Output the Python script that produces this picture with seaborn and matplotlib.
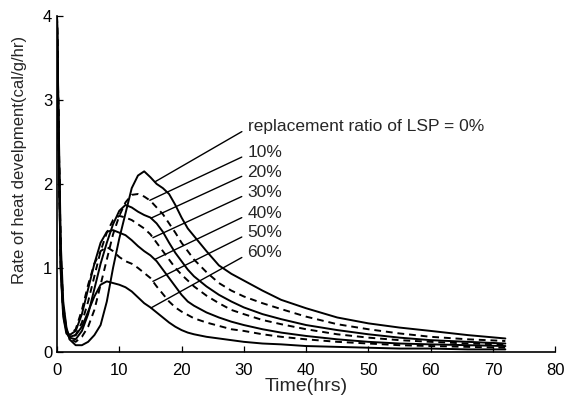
import pandas as pd
import numpy as np
import matplotlib
matplotlib.use("Agg")
import matplotlib.pyplot as plt
import seaborn as sns

# ==============================
# DATA
# ==============================
time_hrs = [0, 0.3, 0.6, 1, 1.5, 2, 3, 4, 5, 6, 7, 8, 9, 10, 11, 12, 13, 14, 15, 16,
            17, 18, 19, 20, 21, 22, 24, 26, 28, 30, 33, 36, 40, 45, 50, 55, 60, 66, 72]

ratios = ["0%", "10%", "20%", "30%", "40%", "50%", "60%"]

rate_0 = [4.0, 2.6, 1.3, 0.6, 0.3, 0.15, 0.08, 0.08, 0.12, 0.2, 0.32, 0.6, 1.0, 1.35, 1.65,
          1.95, 2.1, 2.15, 2.08, 2.0, 1.95, 1.88, 1.75, 1.6, 1.47, 1.38, 1.2, 1.03, 0.93,
          0.85, 0.73, 0.62, 0.52, 0.41, 0.34, 0.29, 0.25, 0.2, 0.16]
rate_10 = [4.0, 2.5, 1.2, 0.55, 0.28, 0.16, 0.12, 0.18, 0.3, 0.5, 0.8, 1.1, 1.4, 1.62, 1.78,
           1.87, 1.88, 1.85, 1.8, 1.72, 1.64, 1.53, 1.42, 1.3, 1.2, 1.1, 0.95, 0.82, 0.73,
           0.66, 0.58, 0.51, 0.42, 0.33, 0.27, 0.22, 0.18, 0.15, 0.13]
rate_20 = [4.0, 2.4, 1.1, 0.5, 0.25, 0.17, 0.15, 0.25, 0.45, 0.75, 1.05, 1.3, 1.52, 1.68, 1.75,
           1.72, 1.67, 1.63, 1.6, 1.53, 1.43, 1.3, 1.18, 1.08, 0.98, 0.9, 0.78, 0.68, 0.6,
           0.53, 0.45, 0.39, 0.32, 0.26, 0.21, 0.17, 0.14, 0.12, 0.1]
rate_30 = [4.0, 2.4, 1.1, 0.5, 0.25, 0.18, 0.2, 0.35, 0.6, 0.9, 1.2, 1.42, 1.57, 1.62, 1.6,
           1.57, 1.52, 1.47, 1.4, 1.3, 1.2, 1.1, 1.0, 0.92, 0.85, 0.78, 0.67, 0.58, 0.5,
           0.45, 0.38, 0.33, 0.27, 0.21, 0.17, 0.14, 0.12, 0.1, 0.09]
rate_40 = [4.0, 2.3, 1.0, 0.48, 0.25, 0.2, 0.25, 0.45, 0.75, 1.05, 1.3, 1.43, 1.45, 1.42, 1.39,
           1.33, 1.26, 1.2, 1.15, 1.08, 0.98, 0.88, 0.78, 0.68, 0.6, 0.55, 0.47, 0.41, 0.36,
           0.32, 0.27, 0.23, 0.19, 0.15, 0.12, 0.1, 0.09, 0.08, 0.07]
rate_50 = [4.0, 2.3, 1.0, 0.45, 0.24, 0.2, 0.27, 0.5, 0.8, 1.05, 1.2, 1.25, 1.2, 1.13, 1.08,
           1.05, 1.0, 0.94, 0.88, 0.78, 0.69, 0.6, 0.53, 0.48, 0.44, 0.4, 0.35, 0.31, 0.27,
           0.25, 0.21, 0.18, 0.15, 0.12, 0.1, 0.08, 0.07, 0.06, 0.05]
rate_60 = [4.0, 2.2, 0.95, 0.42, 0.22, 0.18, 0.2, 0.3, 0.48, 0.66, 0.8, 0.84, 0.82, 0.8, 0.77,
           0.72, 0.65, 0.58, 0.53, 0.47, 0.41, 0.35, 0.3, 0.26, 0.23, 0.21, 0.18, 0.16, 0.14,
           0.12, 0.1, 0.09, 0.07, 0.06, 0.05, 0.04, 0.04, 0.03, 0.03]

# leader lines: point on each curve -> label position
anchor_t = [15.7, 14.9, 15.1, 15.4, 15.7, 15.4, 15.1]
label_y = [2.68, 2.37, 2.14, 1.9, 1.65, 1.42, 1.18]
label_t = 30.6
label_text = ["replacement ratio of LSP = 0%", "10%", "20%", "30%", "40%", "50%", "60%"]

all_rates = [rate_0, rate_10, rate_20, rate_30, rate_40, rate_50, rate_60]

df = pd.concat([
    pd.DataFrame({"time": time_hrs, "rate": r, "ratio": name})
    for name, r in zip(ratios, all_rates)
], ignore_index=True)

# ==============================
# PLOT
# ==============================
sns.set_style("ticks")
plt.rcParams["font.family"] = ["Liberation Sans", "DejaVu Sans"]

fig = plt.figure(figsize=(5.7, 3.99), dpi=100)
ax = fig.add_axes([0.1, 0.118, 0.874, 0.842])

dash_map = {r: ("" if i % 2 == 0 else (3.5, 2.5)) for i, r in enumerate(ratios)}
sns.lineplot(data=df, x="time", y="rate", hue="ratio", style="ratio",
             palette=["black"] * len(ratios), dashes=dash_map,
             linewidth=1.4, legend=False, ax=ax, sort=False)

for i, r in enumerate(all_rates):
    y0 = np.interp(anchor_t[i], time_hrs, r)
    ax.annotate(label_text[i], xy=(anchor_t[i], y0), xytext=(label_t, label_y[i]),
                fontsize=12.5, va="center", ha="left",
                arrowprops=dict(arrowstyle="-", color="black", lw=1.0,
                                relpos=(0, 0.4), shrinkA=2, shrinkB=0))

ax.set_xlim(0, 80)
ax.set_ylim(0, 4)
ax.set_xticks(range(0, 81, 10))
ax.set_yticks(range(0, 5))
ax.tick_params(direction="in", length=4, width=0.9, labelsize=12, colors="black")
ax.tick_params(axis="x", pad=8)
ax.set_xlabel("Time(hrs)", fontsize=14, labelpad=0)
ax.set_ylabel("Rate of heat develpment(cal/g/hr)", fontsize=12)
ax.yaxis.set_label_coords(-0.06, 0.57)
for s in ["left", "bottom"]:
    ax.spines[s].set_color("black")
    ax.spines[s].set_linewidth(1.2)
sns.despine(ax=ax)

fig.savefig("out.png", dpi=100)
